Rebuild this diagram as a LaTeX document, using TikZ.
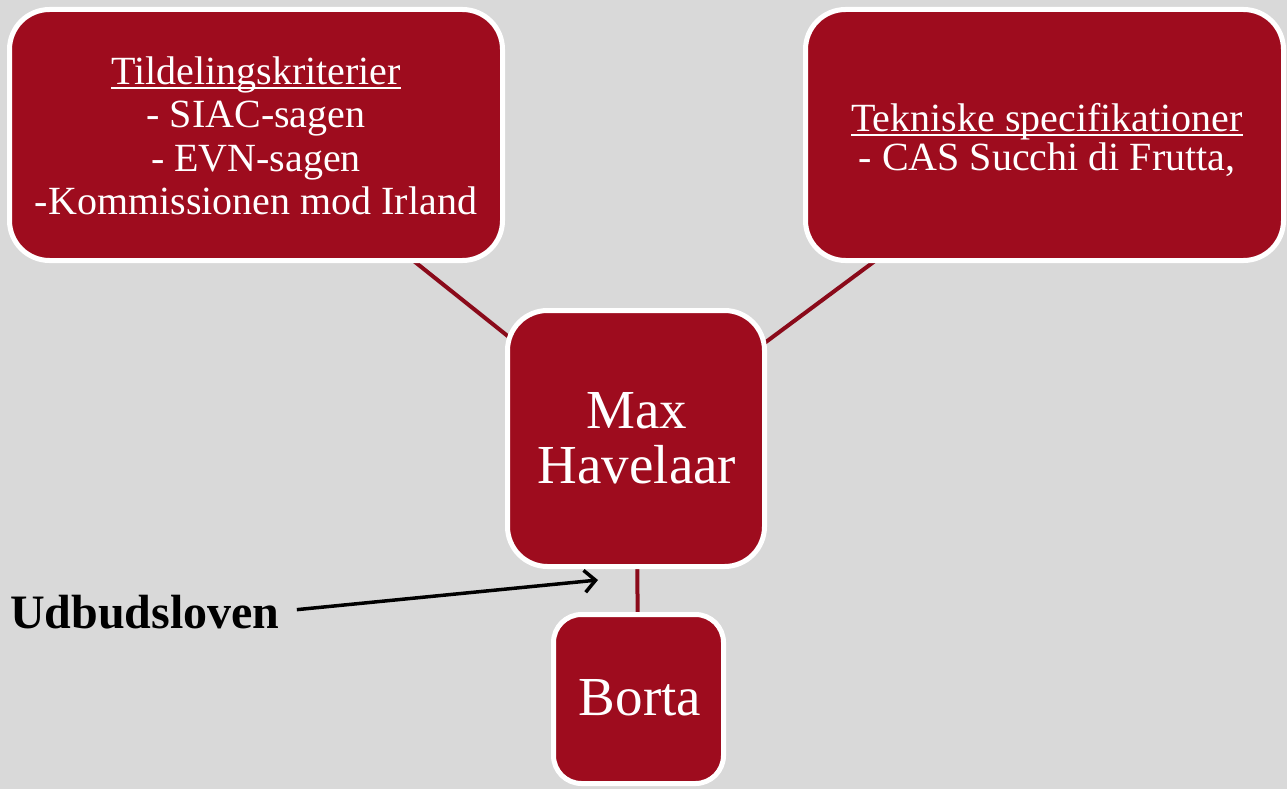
\documentclass[tikz,border=0pt]{standalone}
\usepackage{fontspec}
\setmainfont{Liberation Serif}
\usetikzlibrary{arrows.meta,backgrounds}

\definecolor{vinrod}{RGB}{158,12,30}
\definecolor{linjerod}{RGB}{138,10,26}
\definecolor{lysgraa}{RGB}{217,217,217}

\newcommand{\understreg}[1]{\leavevmode\setbox0\hbox{#1}\rlap{\rule[-4.5pt]{\wd0}{1.8pt}}\box0}

\begin{document}
\begin{tikzpicture}[x=1pt, y=-1pt]
\tikzset{ >={Straight Barb[length=11pt,width=22pt]},
  kasse/.style={draw=white, line width=5pt, fill=vinrod, rounded corners=40pt, inner sep=0pt, outer sep=0pt},
  kassetekst/.style={text=white, align=center, inner sep=0pt},
  forbind/.style={draw=linjerod, line width=4pt},
}

\useasboundingbox (0,0) rectangle (1287,789);

%\draw [lightgray, dashed](0,0) grid[step=100] (1287,789);

\node [kasse, minimum width=493pt, minimum height=251pt] (krit)  at (256,135)    {};
\node [kasse, minimum width=478pt, minimum height=251pt] (tekn)  at (1044.5,135) {};
\node [kasse, minimum width=257pt, minimum height=256pt] (maks)  at (636,438.5)  {};
\node [kasse, minimum width=170pt, minimum height=169pt, rounded corners=28pt] (borta) at (638.5,699) {};

\begin{pgfonlayer}{background}
\fill [lysgraa] (0,0) rectangle (1287,789);
\draw [forbind] (krit.center) -- (maks.center);
\draw [forbind] (tekn.center) -- (maks.center);
\draw [forbind] (maks.center) -- (borta.center);
\end{pgfonlayer}

\node [kassetekst, font=\fontsize{40}{43.5}\selectfont] (kritTekst) at (256,136)
  {\understreg{Tildelingskriterier}\\- SIAC-sagen\\- EVN-sagen\\-Kommissionen mod Irland};
\node [kassetekst, font=\fontsize{40}{38.5}\selectfont] (teknTekst) at (1047,140)
  {\understreg{Tekniske specifikationer}\\- CAS Succhi di Frutta,};
\node [kassetekst, font=\fontsize{55}{55}\selectfont] (maksTekst) at (637,438) {Max\\Havelaar};
\node [kassetekst, font=\fontsize{55}{55}\selectfont, anchor=base] (bortaTekst) at (640,715) {Borta};

\node [anchor=base west, inner sep=0pt, font=\fontsize{48}{48}\selectfont\bfseries] (udbud) at (10,628) {Udbudsloven};
\coordinate (pilspids) at (598,580);
\draw [->, line width=3.5pt] ([xshift=17pt, yshift=2pt]udbud.east) -- (pilspids);

\end{tikzpicture}
\end{document}
